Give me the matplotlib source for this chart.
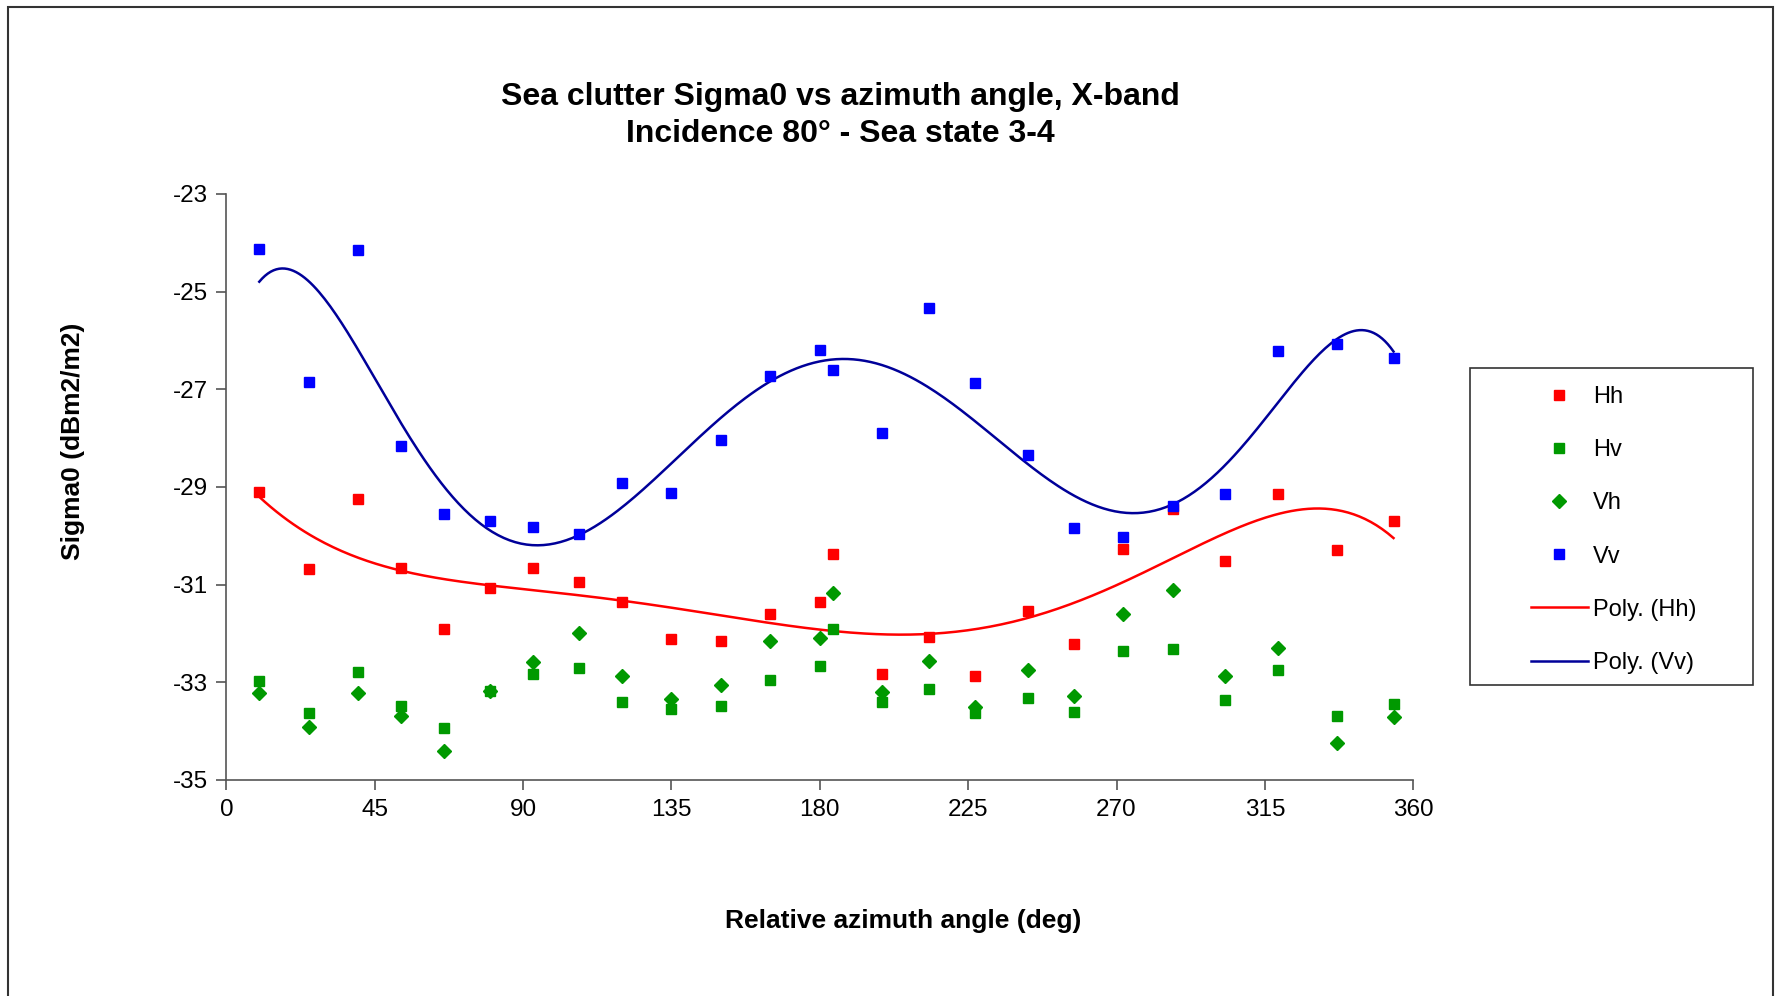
import numpy as np
import matplotlib.pyplot as plt
from matplotlib.patches import Rectangle

plt.rcParams['font.family'] = ['Liberation Sans', 'DejaVu Sans']
plt.rcParams['axes.unicode_minus'] = False

# -------------------------------
# Measured sigma0 values (dB m2/m2) per relative azimuth angle
# -------------------------------
azimuth = [10, 25, 40, 53, 66, 80, 93, 107, 120, 135, 150, 165, 180,
           184, 199, 213, 227, 243, 257, 272, 287, 303, 319, 337, 354]

hh = [-29.11, -30.67, -29.25, -30.65, -31.90, -31.07, -30.65, -30.95,
      -31.35, -32.11, -32.16, -31.60, -31.35, -30.37, -32.84, -32.07,
      -32.88, -31.53, -32.21, -30.27, -29.45, -30.51, -29.15, -30.30,
      -29.69]

hv = [-32.98, -33.63, -32.79, -33.49, -33.93, -33.17, -32.82, -32.70,
      -33.40, -33.54, -33.49, -32.96, -32.67, -31.90, -33.40, -33.14,
      -33.63, -33.33, -33.61, -32.35, -32.32, -33.37, -32.74, -33.70,
      -33.44]

vh = [-33.21, -33.91, -33.21, -33.68, -34.40, -33.17, -32.58, -32.00,
      -32.88, -33.35, -33.05, -32.16, -32.09, -31.18, -33.19, -32.56,
      -33.51, -32.74, -33.28, -31.60, -31.11, -32.88, -32.30, -34.24,
      -33.72]

vv = [-24.12, -26.85, -24.14, -28.17, -29.55, -29.69, -29.81, -29.97,
      -28.92, -29.13, -28.03, -26.73, -26.19, -26.61, -27.90, -25.33,
      -26.87, -28.34, -29.85, -30.02, -29.39, -29.15, -26.22, -26.08,
      -26.36]

x_ticks = [0, 45, 90, 135, 180, 225, 270, 315, 360]
y_ticks = [-35, -33, -31, -29, -27, -25, -23]

# -------------------------------
# Polynomial trendlines (6th order)
# -------------------------------
az = np.array(azimuth, dtype=float)
x_fit = np.linspace(az.min(), az.max(), 400)
hh_fit = np.polyval(np.polyfit(az, hh, 6), x_fit)
vv_fit = np.polyval(np.polyfit(az, vv, 6), x_fit)

# -------------------------------
# Figure
# -------------------------------
W, H = 1782, 996
fig = plt.figure(figsize=(W / 100, H / 100), dpi=100)
ax = fig.add_axes([0.1270, 0.2169, 0.6661, 0.5884])

# chart frame (open at the bottom)
fig.patches.append(Rectangle((8 / W, -0.05), (1773 - 8) / W, 1 - 7 / H + 0.05,
                             transform=fig.transFigure, fill=False,
                             edgecolor='#333333', linewidth=1.5))

ms = 7
ax.plot(azimuth, hh, 's', color='#ff0000', markersize=ms, label='Hh', zorder=3)
ax.plot(azimuth, hv, 's', color='#009900', markersize=ms, label='Hv', zorder=3)
ax.plot(azimuth, vh, 'D', color='#009900', markersize=ms, label='Vh', zorder=3)
ax.plot(azimuth, vv, 's', color='#0000ff', markersize=ms, label='Vv', zorder=3)
ax.plot(x_fit, hh_fit, '-', color='#ff0000', linewidth=1.8, label='Poly. (Hh)', zorder=2)
ax.plot(x_fit, vv_fit, '-', color='#000099', linewidth=1.8, label='Poly. (Vv)', zorder=2)

ax.set_xlim(0, 360)
ax.set_ylim(-35, -23)
ax.set_xticks(x_ticks)
ax.set_yticks(y_ticks)
ax.tick_params(axis='both', direction='out', length=7, width=1.2,
               color='#555555', labelsize=17.5, pad=6.5)
for side in ['top', 'right']:
    ax.spines[side].set_visible(False)
for side in ['left', 'bottom']:
    ax.spines[side].set_color('#555555')
    ax.spines[side].set_linewidth(1.2)

fig.text(0.4714, 0.884, 'Sea clutter Sigma0 vs azimuth angle, X-band\nIncidence 80\u00b0 - Sea state 3-4',
         ha='center', va='center', fontsize=23, fontweight='bold', linespacing=1.3)
fig.text(0.507, 0.075, 'Relative azimuth angle (deg)', ha='center', va='center',
         fontsize=19, fontweight='bold')
fig.text(0.041, 0.557, 'Sigma0 (dBm2/m2)', ha='center', va='center', rotation=90,
         fontsize=19, fontweight='bold')

# legend box drawn separately so the entries can sit inset
fig.patches.append(Rectangle((1470 / W, 1 - 685 / H), (1753 - 1470) / W, (685 - 368) / H,
                             transform=fig.transFigure, fill=False,
                             edgecolor='#333333', linewidth=1.2))
leg = ax.legend(loc='upper left', bbox_to_anchor=(1524 / W, 1 - 379 / H),
                bbox_transform=fig.transFigure, frameon=False,
                fontsize=17, labelspacing=1.32, handlelength=2.4, handletextpad=0.22,
                borderpad=0.3, borderaxespad=0)

plt.savefig('out.png', dpi=100)
